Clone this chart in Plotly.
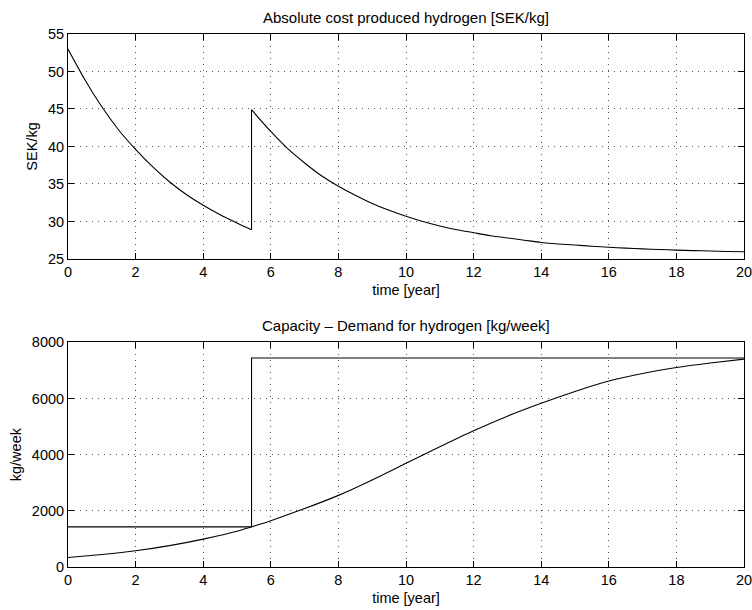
import plotly.graph_objects as go
from plotly.subplots import make_subplots

# ---- data ----
# Absolute cost of produced hydrogen [SEK/kg]
cost_t1 = [0, 0.5, 1, 1.5, 2, 2.5, 3, 3.5, 4, 4.5, 5, 5.43]
cost_v1 = [53.0, 48.9, 45.3, 42.2, 39.6, 37.3, 35.3, 33.6, 32.15, 30.9, 29.8, 28.9]
cost_t2 = [5.43, 6, 6.5, 7, 7.5, 8, 8.5, 9, 9.5, 10, 10.5, 11, 11.5, 12, 12.5, 13,
           13.5, 14, 14.5, 15, 15.5, 16, 16.5, 17, 17.5, 18, 18.5, 19, 19.5, 20]
cost_v2 = [44.9, 42.0, 39.7, 37.8, 36.1, 34.7, 33.5, 32.4, 31.5, 30.7, 30.0, 29.4,
           28.9, 28.5, 28.1, 27.8, 27.5, 27.2, 27.0, 26.85, 26.7, 26.56, 26.44,
           26.34, 26.25, 26.18, 26.11, 26.06, 26.0, 25.96]

# Capacity (step) and demand [kg/week]
cap_t = [0, 5.43, 5.43, 20]
cap_v = [1430, 1430, 7440, 7440]
dem_t = [0, 1, 2, 3, 4, 5, 5.43, 6, 7, 8, 9, 10, 11, 12, 13, 14, 15, 16, 17, 18, 19, 20]
dem_v = [340, 445, 577, 760, 993, 1270, 1430, 1650, 2080, 2550, 3100, 3690, 4280,
         4850, 5370, 5830, 6250, 6620, 6890, 7100, 7260, 7400]

x_ticks = [0, 2, 4, 6, 8, 10, 12, 14, 16, 18, 20]
y1_ticks = [25, 30, 35, 40, 45, 50, 55]
y2_ticks = [0, 2000, 4000, 6000, 8000]

title1 = "Absolute cost produced hydrogen [SEK/kg]"
title2 = "Capacity \u2013 Demand for hydrogen [kg/week]"

FONT = "Liberation Sans, Arial, Helvetica, sans-serif"
FS = 14.5
FS_T = 15

fig = make_subplots(rows=2, cols=1)

line = dict(color="black", width=1.1)
smooth = dict(color="black", width=1.1, shape="spline", smoothing=0.8)
fig.add_trace(go.Scatter(x=cost_t1, y=cost_v1, mode="lines", line=smooth), row=1, col=1)
fig.add_trace(go.Scatter(x=[cost_t1[-1], cost_t2[0]], y=[cost_v1[-1], cost_v2[0]],
                         mode="lines", line=line), row=1, col=1)
fig.add_trace(go.Scatter(x=cost_t2, y=cost_v2, mode="lines", line=smooth), row=1, col=1)
fig.add_trace(go.Scatter(x=cap_t, y=cap_v, mode="lines", line=line), row=2, col=1)
fig.add_trace(go.Scatter(x=dem_t, y=dem_v, mode="lines", line=smooth), row=2, col=1)

axis_common = dict(
    showline=True, linecolor="black", linewidth=1, mirror="ticks",
    ticks="inside", ticklen=6, tickcolor="black", tickwidth=1,
    showgrid=True, gridcolor="#555555", gridwidth=1, griddash="1px,5px",
    zeroline=False, tickfont=dict(family=FONT, size=FS, color="black"),
    ticklabeloverflow="allow", automargin=False,
)

for r in (1, 2):
    fig.update_xaxes(range=[0, 20], tickvals=x_ticks, ticktext=[str(v) for v in x_ticks],
                     title=dict(text="time [year]", font=dict(family=FONT, size=FS, color="black"),
                                standoff=5),
                     row=r, col=1, **axis_common)

fig.update_yaxes(range=[25, 55], tickvals=y1_ticks, ticktext=[str(v) for v in y1_ticks],
                 title=dict(text="SEK/kg", font=dict(family=FONT, size=FS, color="black"),
                            standoff=6),
                 row=1, col=1, **axis_common)
fig.update_yaxes(range=[0, 8000], tickvals=y2_ticks, ticktext=[str(v) for v in y2_ticks],
                 title=dict(text="kg/week", font=dict(family=FONT, size=FS, color="black"),
                            standoff=6),
                 row=2, col=1, **axis_common)

fig.update_layout(
    width=752, height=610,
    margin=dict(l=68, r=8, t=34, b=43),
    paper_bgcolor="white", plot_bgcolor="white",
    showlegend=False,
    font=dict(family=FONT, size=FS, color="black"),
)
fig.update_layout(xaxis=dict(domain=[0, 1]), yaxis=dict(domain=[0.578, 1.0]),
                  xaxis2=dict(domain=[0, 1]), yaxis2=dict(domain=[0.0, 0.4216]))

for ttl, ydom in ((title1, 1.0), (title2, 0.4216)):
    fig.add_annotation(text=ttl, xref="paper", yref="paper", x=0.5, y=ydom,
                       xanchor="center", yanchor="bottom", yshift=6, showarrow=False,
                       font=dict(family=FONT, size=FS_T, color="black"))

fig.write_html(
    "out.html",
    config={"displayModeBar": False},
    post_script="document.body.style.margin='0';document.body.style.overflow='hidden';",
)
